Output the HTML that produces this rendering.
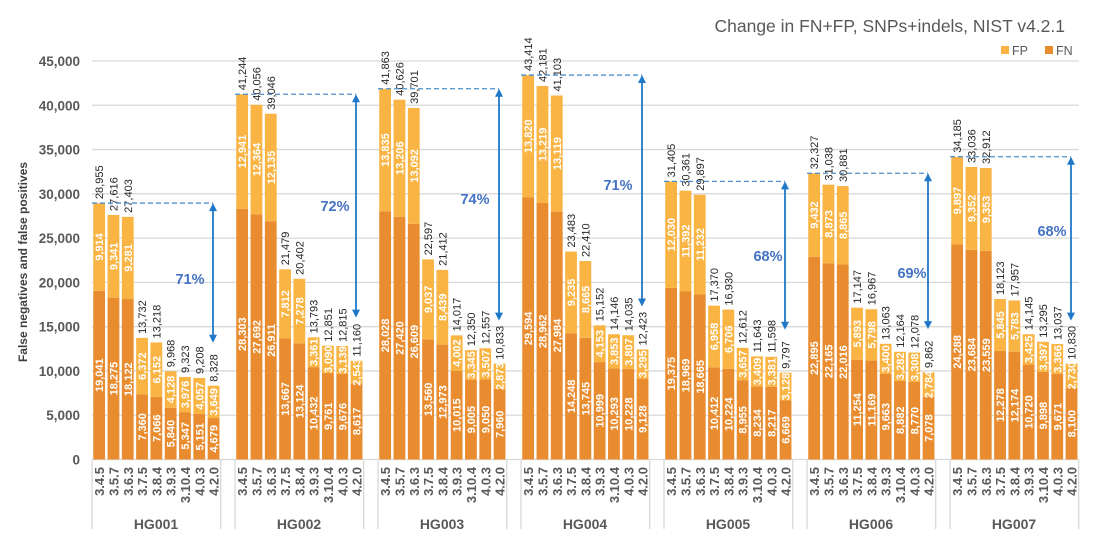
<!DOCTYPE html>
<html><head><meta charset="utf-8">
<style>
html,body{margin:0;padding:0;background:#fff;}
svg{display:block;font-family:"Liberation Sans",Arial,sans-serif;}
</style></head>
<body>
<svg id="c" width="1100" height="552" viewBox="0 0 1100 552" xmlns="http://www.w3.org/2000/svg"></svg>
<script>
const FN=[[19041,18275,18122,7360,7066,5840,5347,5151,4679],
[28303,27692,26911,13667,13124,10432,9761,9676,8617],
[28028,27420,26609,13560,12973,10015,9005,9050,7960],
[29594,28962,27984,14248,13745,10999,10293,10228,9128],
[19375,18969,18665,10412,10224,8955,8234,8217,6669],
[22895,22165,22016,11254,11169,9663,8882,8770,7078],
[24288,23684,23559,12278,12174,10720,9898,9671,8100]];
const FP=[[9914,9341,9281,6372,6152,4128,3976,4057,3649],
[12941,12364,12135,7812,7278,3361,3090,3139,2543],
[13835,13206,13092,9037,8439,4002,3345,3507,2873],
[13820,13219,13119,9235,8665,4153,3853,3807,3295],
[12030,11392,11232,6958,6706,3657,3409,3381,3128],
[9432,8873,8865,5893,5798,3400,3282,3308,2784],
[9897,9352,9353,5845,5783,3425,3397,3366,2730]];
const vers=["3.4.5","3.5.7","3.6.3","3.7.5","3.8.4","3.9.3","3.10.4","4.0.3","4.2.0"];
const pct=["71%","72%","74%","71%","68%","69%","68%"];
const pctPos=[[190,284],[335,211],[475,204],[618,190],[768,261],[912,278],[1052,236]];
const Y0=459.5,K=398.5/45000,X0=92,GP=143,SL=14.3,BW=11.8;
const y=v=>Y0-v*K;
const f=n=>n.toLocaleString('en-US');
let s='';
for(let v=5000;v<=45000;v+=5000){s+=`<line x1="${X0}" x2="1079" y1="${y(v)}" y2="${y(v)}" stroke="#d9d9d9" stroke-width="1.3"/>`;}
for(let v=0;v<=45000;v+=5000){s+=`<text x="80" y="${y(v)+5}" text-anchor="end" font-size="13.5" font-weight="bold" fill="#595959">${f(v)}</text>`;}
s+=`<line x1="${X0}" x2="1079" y1="${Y0}" y2="${Y0}" stroke="#d9d9d9" stroke-width="1.3"/>`;
s+=`<text transform="translate(27,262) rotate(-90)" text-anchor="middle" font-size="12" font-weight="bold" fill="#404040">False negatives and false positives</text>`;
for(let g=0;g<7;g++){
 const gx=X0+g*GP;
 s+=`<line x1="${gx}" x2="${gx}" y1="${Y0}" y2="529" stroke="#d9d9d9" stroke-width="1.3"/>`;
 s+=`<line x1="${gx+128.7}" x2="${gx+128.7}" y1="${Y0}" y2="529" stroke="#d9d9d9" stroke-width="1.3"/>`;
 s+=`<text x="${gx+64}" y="529" text-anchor="middle" font-size="14" font-weight="bold" fill="#595959">HG00${g+1}</text>`;
 for(let i=0;i<9;i++){
  const bx=gx+i*SL+(SL-BW)/2, cx=bx+BW/2;
  const fn=FN[g][i],fp=FP[g][i],t=fn+fp;
  s+=`<rect x="${bx}" y="${y(fn)}" width="${BW}" height="${fn*K}" fill="#E98C2F"/>`;
  s+=`<rect x="${bx}" y="${y(t)}" width="${BW}" height="${fp*K}" fill="#F9B443"/>`;
  s+=`<text transform="translate(${cx+4},${(Y0+y(fn))/2}) rotate(-90)" text-anchor="middle" font-size="11" font-weight="bold" fill="#fff">${f(fn)}</text>`;
  s+=`<text transform="translate(${cx+4},${(y(fn)+y(t))/2}) rotate(-90)" text-anchor="middle" font-size="11" font-weight="bold" fill="#fff">${f(fp)}</text>`;
  s+=`<text transform="translate(${cx+4},${y(t)-4}) rotate(-90)" text-anchor="start" font-size="11" fill="#262626">${f(t)}</text>`;
  s+=`<text transform="translate(${cx+5},467) rotate(-90)" text-anchor="end" font-size="13" font-weight="bold" fill="#595959">${vers[i]}</text>`;
 }
 const top=FN[g][0]+FP[g][0], bot=FN[g][8]+FP[g][8], ax=gx+121;
 const yb=y(bot)-43;
 s+=`<line x1="${gx}" x2="${ax}" y1="${y(top)}" y2="${y(top)}" stroke="#4a90d0" stroke-width="1.3" stroke-dasharray="5,3"/>`;
 s+=`<line x1="${ax}" x2="${ax}" y1="${y(top)+6}" y2="${yb-6}" stroke="#1f78c8" stroke-width="1.8"/>`;
 s+=`<polygon points="${ax-4},${y(top)+8} ${ax+4},${y(top)+8} ${ax},${y(top)}" fill="#1f78c8"/>`;
 s+=`<polygon points="${ax-4},${yb-8} ${ax+4},${yb-8} ${ax},${yb}" fill="#1f78c8"/>`;
 s+=`<text x="${pctPos[g][0]}" y="${pctPos[g][1]}" text-anchor="middle" font-size="14.5" font-weight="bold" fill="#4472C4">${pct[g]}</text>`;
}
s+=`<text x="1065" y="32" text-anchor="end" font-size="17.5" fill="#595959">Change in FN+FP, SNPs+indels, NIST v4.2.1</text>`;
s+=`<rect x="1001" y="46" width="8" height="8" fill="#F9B443"/><text x="1012" y="55" font-size="12.5" fill="#595959">FP</text>`;
s+=`<rect x="1045" y="46" width="8" height="8" fill="#E98C2F"/><text x="1056" y="55" font-size="12.5" fill="#595959">FN</text>`;
document.getElementById('c').innerHTML=s;
</script>
</body></html>
